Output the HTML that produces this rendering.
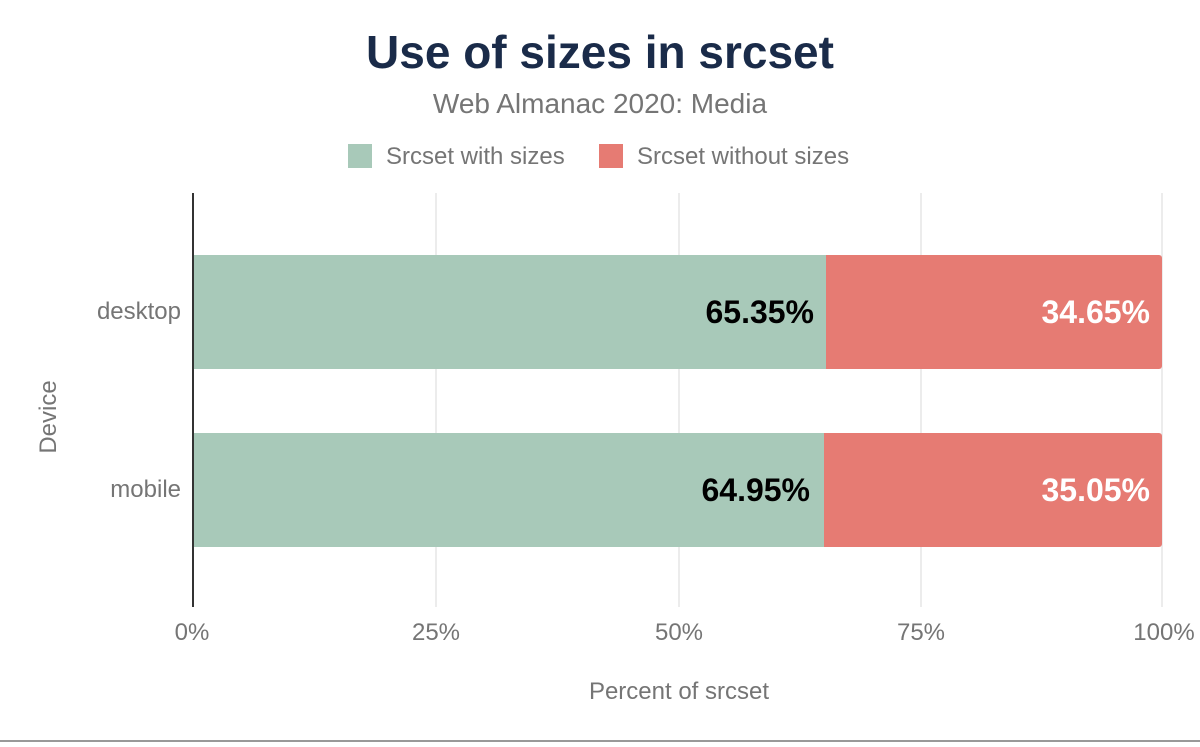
<!DOCTYPE html>
<html><head><meta charset="utf-8"><style>
body{margin:0;background:#fff;}
svg text{font-family:"Liberation Sans",Arial,sans-serif;}
</style></head><body>
<svg width="1200" height="742" viewBox="0 0 1200 742" xmlns="http://www.w3.org/2000/svg">
<rect width="1200" height="742" fill="#fff"/>
<text x="600" y="68" text-anchor="middle" font-size="46" font-weight="bold" fill="#1a2b49">Use of sizes in srcset</text>
<text x="600" y="113" text-anchor="middle" font-size="28" fill="#757575">Web Almanac 2020: Media</text>
<rect x="348" y="144" width="24" height="24" fill="#a8c9b9"/>
<text x="386" y="164" font-size="24" fill="#757575">Srcset with sizes</text>
<rect x="599" y="144" width="24" height="24" fill="#e67b73"/>
<text x="637" y="164" font-size="24" fill="#757575">Srcset without sizes</text>
<g stroke="#e6e6e6" stroke-width="1.5">
<line x1="436" y1="193" x2="436" y2="607"/>
<line x1="679" y1="193" x2="679" y2="607"/>
<line x1="921" y1="193" x2="921" y2="607"/>
<line x1="1162" y1="193" x2="1162" y2="607"/>
</g>
<rect x="193" y="255" width="633" height="114" fill="#a8c9b9"/>
<path d="M826 255H1159a3 3 0 0 1 3 3V366a3 3 0 0 1-3 3H826Z" fill="#e67b73"/>
<rect x="193" y="433" width="631" height="114" fill="#a8c9b9"/>
<path d="M824 433H1159a3 3 0 0 1 3 3V544a3 3 0 0 1-3 3H824Z" fill="#e67b73"/>
<line x1="193" y1="193" x2="193" y2="607" stroke="#333" stroke-width="2"/>
<g font-size="32" font-weight="bold" text-anchor="end">
<text x="814" y="323" fill="#000">65.35%</text>
<text x="1150" y="323" fill="#fff">34.65%</text>
<text x="810" y="501" fill="#000">64.95%</text>
<text x="1150" y="501" fill="#fff">35.05%</text>
</g>
<g font-size="24" fill="#757575" text-anchor="end">
<text x="181" y="319">desktop</text>
<text x="181" y="497">mobile</text>
</g>
<text transform="translate(56,417) rotate(-90)" text-anchor="middle" font-size="24" fill="#757575">Device</text>
<g font-size="24" fill="#757575" text-anchor="middle">
<text x="192" y="640">0%</text>
<text x="436" y="640">25%</text>
<text x="679" y="640">50%</text>
<text x="921" y="640">75%</text>
<text x="1164" y="640">100%</text>
<text x="679" y="699">Percent of srcset</text>
</g>
<line x1="0" y1="741" x2="1200" y2="741" stroke="#999" stroke-width="2"/>
</svg>
</body></html>
